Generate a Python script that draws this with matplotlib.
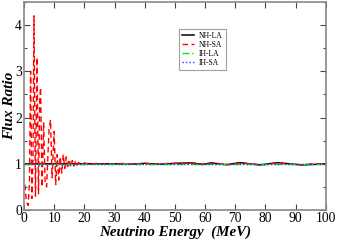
import matplotlib
matplotlib.use("Agg")
import matplotlib.pyplot as plt
from matplotlib.ticker import MultipleLocator

# NH-SA (red dashed) strongly oscillating at low energies
e_nhsa = [0.3, 0.7, 1.0, 1.4, 1.8, 2.2, 2.6, 3.0, 3.3, 3.8, 4.3, 4.8, 5.2, 5.5,
          6.0, 6.5, 7.0, 7.5, 8.0, 8.3, 8.8, 9.3, 10.0, 10.5, 11.0, 11.5, 12.0,
          12.5, 13.0, 13.5, 14.0, 14.5, 15.0, 15.5, 16.0, 16.5, 17.0, 17.5, 18.0,
          19.0, 20.0, 22.0, 24.0, 26.0, 28.0, 30.0, 33.0, 36.0, 40.0, 44.0, 48.0,
          52.0, 56.0, 60.0, 64.0, 68.0, 72.0, 76.0, 80.0, 84.0, 88.0, 92.0, 96.0, 100.0]
r_nhsa = [0.55, 0.25, 0.15, 0.10, 0.60, 3.00, 0.25, 1.2, 4.20, 0.30, 3.30, 0.35, 2.40, 2.65,
          0.50, 1.90, 0.60, 0.50, 1.30, 1.75, 1.95, 0.70, 1.70, 0.55, 1.20, 0.65, 1.15,
          0.80, 1.20, 0.90, 1.15, 0.90, 1.10, 0.93, 1.07, 0.95, 1.05, 0.97, 1.03,
          0.98, 1.02, 0.99, 1.01, 0.99, 1.01, 0.99, 1.01, 0.99, 1.01, 0.99, 1.01,
          1.01, 1.02, 0.99, 1.01, 0.98, 1.02, 0.99, 0.98, 1.02, 0.99, 0.98, 1.00, 1.00]

# NH-LA (black solid) small slow wiggles
e_nhla = [0, 5, 10, 15, 20, 25, 30, 35, 40, 45, 50, 55.5, 59, 62, 67, 71.5, 78, 84, 92, 100]
r_nhla = [1.00, 1.00, 1.00, 1.00, 1.00, 1.00, 1.00, 0.99, 1.01, 0.99, 1.01, 1.02, 0.985,
          1.02, 0.98, 1.025, 0.975, 1.025, 0.975, 1.00]

# IH-LA (green dash-dot) and IH-SA (blue dotted), flat near 1
e_ih = [0, 10, 20, 30, 40, 50, 60, 70, 80, 90, 100]
r_ihla = [1.00, 1.00, 1.00, 1.00, 1.00, 1.00, 1.00, 1.00, 1.00, 1.00, 1.00]
r_ihsa = [1.00, 1.00, 1.00, 1.00, 1.00, 1.00, 1.00, 1.00, 1.00, 1.00, 1.00]

plt.rcParams['font.family'] = ['Liberation Serif', 'DejaVu Serif']

fig = plt.figure(figsize=(3.38, 2.42), dpi=100)
ax = fig.add_axes([0.071, 0.132, 0.893, 0.860])

ax.plot(e_nhla, r_nhla, color='black', lw=1.1, label='NH-LA')
ax.plot(e_nhsa, r_nhsa, color='red', lw=1.0, ls=(0, (4, 2.5)), label='NH-SA')
ax.plot(e_ih, r_ihla, color='#00ee00', lw=1.0, ls=(0, (5, 2, 1, 2)), label='IH-LA')
ax.plot(e_ih, r_ihsa, color='#3333ff', lw=1.0, ls=(0, (1, 1.5)), label='IH-SA')

ax.set_xlim(0, 100)
ax.set_ylim(0, 4.5)
ax.xaxis.set_major_locator(MultipleLocator(10))
ax.yaxis.set_major_locator(MultipleLocator(1))
ax.yaxis.set_minor_locator(MultipleLocator(0.5))
ax.tick_params(which='both', direction='in', top=True, right=True,
               labelsize=9.8, colors='#444444', labelcolor='black', pad=1.5)
ax.tick_params(which='major', length=4, width=0.8)
ax.tick_params(which='minor', length=2.5, width=0.8)
for s in ax.spines.values():
    s.set_color('#888888')
    s.set_linewidth(1.2)

ax.set_xlabel('Neutrino Energy  (MeV)', fontsize=10.8, fontweight='bold',
              fontstyle='italic', labelpad=0)
ax.set_ylabel('Flux Ratio', fontsize=11, fontweight='bold',
              fontstyle='italic')
ax.yaxis.set_label_coords(-0.027, 0.5)

leg = ax.legend(loc='upper left', bbox_to_anchor=(0.50, 0.89), fontsize=5.5,
                frameon=True, fancybox=False, edgecolor='#888888',
                handlelength=1.6, handletextpad=0.6, borderpad=0.45,
                labelspacing=0.12)
leg.get_frame().set_linewidth(0.8)

fig.savefig('out.png', dpi=100)
